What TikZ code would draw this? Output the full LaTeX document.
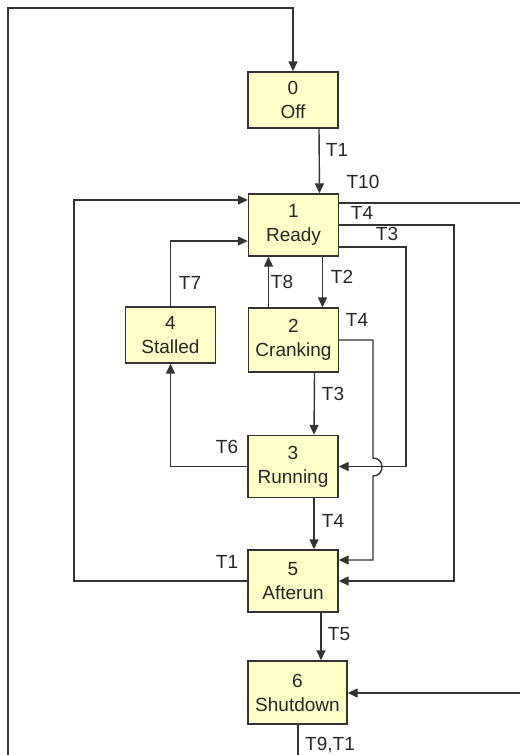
\documentclass[tikz,border=0pt]{standalone}
\usepackage{fontspec}
\setmainfont{Liberation Sans}
\usetikzlibrary{arrows.meta}
\definecolor{ln}{HTML}{333333}
\definecolor{bx}{HTML}{FFFFC8}

\begin{document}
\begin{tikzpicture}[x=1pt,y=-1pt,>={Triangle[length=10pt,width=9pt]},color=ln,line width=1.4pt,
  st/.style={rectangle,draw=ln,fill=bx,minimum width=90pt,minimum height=62pt,inner sep=0pt,
    align=center,text=black!85,font=\fontsize{19}{24}\selectfont},
  tl/.style={text=black!85,font=\fontsize{19}{24}\selectfont}]
  \useasboundingbox (0,0) rectangle (520,755);
  % states
  \node[st,minimum height=56pt](off) at (293,100){0\\Off};
  \node[st](rdy) at (293.5,225){1\\Ready};
  \node[st,minimum height=64pt](crk) at (293.5,340){2\\Cranking};
  \node[st,minimum height=56pt](stl) at (170.5,335){4\\Stalled};
  \node[st](run) at (293,466.5){3\\Running};
  \node[st](aft) at (293,581){5\\Afterun};
  \node[st,minimum width=99pt,minimum height=63pt](shd) at (297.5,692.5){6\\Shutdown};
  % loose ends and corners
  \coordinate (lbot) at (8,755);
  \coordinate (ltop) at (8,8);
  \coordinate (r10) at (520,203);
  \coordinate (r6) at (520,693);
  \coordinate (b6) at (298,755);
  \coordinate (c1) at (74,0);
  \coordinate (c3) at (406,0);
  \coordinate (c4) at (454,0);
  \coordinate (hop) at (373,467);
  % transitions
  \draw[->] (lbot)--(ltop)-|(off.north);
  \draw[->] ([xshift=26pt]off.south)--([xshift=26pt]rdy.north);
  \draw (rdy.east|-r10)--(r10);
  \draw[->] (rdy.east)-|(c4|-aft.east)--(aft.east);
  \draw[->] ([yshift=-22pt]rdy.east)-|(c3|-run.east)--(run.east);
  \draw[->] ([xshift=29pt]rdy.south)--([xshift=29pt]crk.north);
  \draw[->] ([xshift=-25pt]crk.north)--([xshift=-25pt]rdy.south);
  \draw[->] (stl.north)|-([yshift=-16pt]rdy.west);
  \draw[->] (crk.east)-|([yshift=9pt]hop) .. controls +(12,0) and +(12,0) .. ([yshift=-9pt]hop)|-([yshift=21pt]aft.east);
  \draw[->] ([xshift=21pt]crk.south)--([xshift=21pt]run.north);
  \draw[->] (run.west)-|(stl.south);
  \draw[->] ([xshift=21pt]run.south)--([xshift=21pt]aft.north);
  \draw[->] (aft.west)--(aft.west-|c1)|-([yshift=25pt]rdy.west);
  \draw[->] ([xshift=28pt]aft.south)--([xshift=28pt]aft.south|-shd.north);
  \draw[->] (r6)--(shd.east|-r6);
  \draw (shd.south-|b6)--(b6);
  % labels
  \node[tl](t1a) at (337,150){T1};
  \node[tl](t10) at (363,182){T10};
  \node[tl](t4a) at (362,213){T4};
  \node[tl](t3a) at (387,234){T3};
  \node[tl](t7) at (190,283){T7};
  \node[tl](t8) at (282,282){T8};
  \node[tl](t2) at (342,277){T2};
  \node[tl](t4b) at (357,320){T4};
  \node[tl](t3b) at (333,394){T3};
  \node[tl](t6) at (227,447){T6};
  \node[tl](t4c) at (333,521){T4};
  \node[tl](t1b) at (227,562){T1};
  \node[tl](t5) at (339,634){T5};
  \node[tl](t91) at (330,745){T9,T1};
\end{tikzpicture}
\end{document}
